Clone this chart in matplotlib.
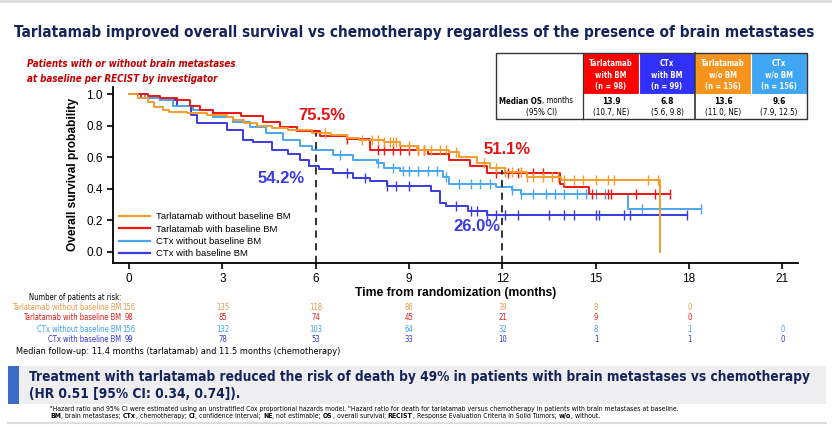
import numpy as np
import matplotlib
matplotlib.use("Agg")
import matplotlib.pyplot as plt
from matplotlib import font_manager as fm
from matplotlib.patches import Rectangle
from matplotlib.lines import Line2D

ARIAL = ['Liberation Sans', 'DejaVu Sans']
plt.rcParams['font.family'] = ARIAL

W, H = 832, 426

# ---- KM step data (months, survival) ----
orange_t = [0, 0.3, 0.6, 0.8, 1.1, 1.3, 1.85, 2.5, 3.15, 3.35, 3.7, 4.1, 4.6, 5.1, 5.9, 6.5, 7.0, 7.4,
            8.2, 8.7, 9.25, 10.3, 10.6, 11.2, 11.6, 12.1, 12.8, 13.9, 17.07]
orange_s = [1.0, 0.98, 0.95, 0.92, 0.90, 0.89, 0.88, 0.87, 0.857, 0.84, 0.82, 0.80, 0.79, 0.775, 0.755, 0.74,
            0.725, 0.71, 0.70, 0.67, 0.65, 0.635, 0.60, 0.565, 0.535, 0.51, 0.478, 0.46, 0.0]
orange_cens = [6.3, 7.5, 7.8, 8.0, 8.2, 8.4, 8.5, 8.6, 9.0, 9.3, 9.5, 9.7, 10.0, 10.2, 10.5, 11.4, 11.8,
               12.1, 12.3, 12.6, 12.8, 13.0, 13.3, 13.6, 13.8, 14.0, 14.3, 14.6, 15.0, 15.4, 15.6, 16.7, 17.0]

red_t = [0, 0.6, 1.0, 1.54, 1.96, 2.28, 2.7, 3.6, 4.3, 4.85, 5.4, 6.14, 7.0, 7.75, 9.6, 10.3, 10.96,
         11.5, 13.86, 14.0, 14.8, 17.4]
red_s = [1.0, 0.99, 0.98, 0.965, 0.93, 0.90, 0.88, 0.865, 0.825, 0.795, 0.77, 0.735, 0.72, 0.645, 0.62,
         0.585, 0.545, 0.50, 0.43, 0.41, 0.37, 0.37]
red_cens = [7.0, 8.0, 8.2, 8.5, 8.7, 9.0, 9.3, 9.5, 11.8, 12.2, 12.5, 13.0, 13.3, 14.9, 15.4, 15.5,
            16.3, 16.9, 17.4]

ltblue_t = [0, 0.5, 1.0, 1.4, 2.06, 2.7, 3.35, 3.9, 4.4, 4.95, 5.5, 5.9, 6.56, 7.2, 7.97, 8.2, 8.7,
            10.1, 10.3, 11.8, 12.3, 12.6, 16.05, 18.4]
ltblue_s = [1.0, 0.98, 0.965, 0.93, 0.90, 0.86, 0.825, 0.795, 0.755, 0.71, 0.67, 0.65, 0.615, 0.585,
            0.565, 0.535, 0.515, 0.478, 0.43, 0.41, 0.395, 0.37, 0.27, 0.27]
ltblue_cens = [6.8, 8.0, 8.5, 8.8, 9.0, 9.3, 9.6, 9.9, 10.2, 10.6, 11.0, 11.3, 11.6, 12.3, 12.6, 13.0,
               13.4, 13.7, 14.0, 14.4, 14.7, 15.0, 15.3, 16.5, 18.4]

blue_t = [0, 0.4, 1.0, 1.54, 2.0, 2.19, 3.15, 3.67, 4.0, 4.6, 5.1, 5.5, 5.8, 6.1, 6.56, 7.2, 7.75, 8.3,
          9.7, 10.0, 10.2, 10.9, 11.5, 17.95]
blue_s = [1.0, 0.98, 0.965, 0.93, 0.87, 0.82, 0.775, 0.71, 0.70, 0.65, 0.62, 0.585, 0.545, 0.53, 0.50,
          0.47, 0.45, 0.42, 0.39, 0.31, 0.29, 0.26, 0.237, 0.237]
blue_cens = [7.0, 7.6, 8.3, 8.6, 9.0, 10.5, 11.0, 11.2, 11.5, 11.8, 12.1, 12.5, 13.5, 14.0, 14.3, 15.0,
             15.1, 15.9, 16.1, 17.95]

# ---- risk table ----
risk_times = [0, 3, 6, 9, 12, 15, 18, 21]
risk_labels = ["Tarlatamab without baseline BM", "Tarlatamab with baseline BM",
               "CTx without baseline BM", "CTx with baseline BM"]
risk_orange = [156, 135, 118, 86, 39, 8, 0]
risk_red = [98, 85, 74, 45, 21, 9, 0]
risk_ltblue = [156, 132, 103, 64, 32, 8, 1, 0]
risk_blue = [99, 78, 53, 33, 10, 1, 1, 0]

# ---- median OS table ----
tab_heads = [["Tarlatamab", "with BM", "(n = 98)"], ["CTx", "with BM", "(n = 99)"],
             ["Tarlatamab", "w/o BM", "(n = 156)"], ["CTx", "w/o BM", "(n = 156)"]]
tab_median = ["13.9", "6.8", "13.6", "9.6"]
tab_ci = ["(10.7, NE)", "(5.6, 9.8)", "(11.0, NE)", "(7.9, 12.5)"]

C_OR = '#f59c2c'
C_RED = '#f01414'
C_LB = '#4aa6ee'
C_BL = '#3a3ade'
NAVY = '#14245a'


def narrow(bold=False, italic=False):
    # DejaVu Sans Condensed stands in for the slide's narrow font
    for f in fm.fontManager.ttflist:
        if f.name == 'DejaVu Sans' and f.stretch == 'condensed' and (f.weight == 700) == bold \
                and (f.style != 'normal') == italic:
            return fm.FontProperties(fname=f.fname, size=8)
    return fm.FontProperties(family='DejaVu Sans', weight='bold' if bold else 'normal',
                             style='oblique' if italic else 'normal', size=8)


NR = narrow()
NB = narrow(bold=True)
NBI = narrow(bold=True, italic=True)

fig = plt.figure(figsize=(W / 100, H / 100), dpi=100)
renderer = fig.canvas.get_renderer()


def fx(x):
    return x / W


def fy(y):
    return 1 - y / H


def ftext(x, y, s, fp=NR, size=8, **kw):
    t = fig.text(fx(x), fy(y), s, fontproperties=fp, **kw)
    t.set_fontsize(size)
    return t


def fit(t, width):
    w = t.get_window_extent(renderer).width
    t.set_fontsize(t.get_fontsize() * width / w)
    return t.get_fontsize()


# top grey border
fig.add_artist(Line2D([0, 1], [fy(1), fy(1)], color='#dddddd', lw=2))

t = ftext(14, 32, "Tarlatamab improved overall survival vs chemotherapy regardless of the presence of brain metastases",
          NB, color=NAVY, va='center')
fit(t, 804)
t = ftext(27, 64, "Patients with or without brain metastases", NBI, color='#c00000', va='center')
sz = fit(t, 210)
ftext(27, 79, "at baseline per RECIST by investigator", NBI, sz, color='#c00000', va='center')

# ---- axes ----
x0, x1 = -0.514, 21.51
y0, y1 = -0.07, 1.05
ax_left, ax_right, ax_bot = 113, 798, 263
ax_top = 252 - 1.05 * 157.5
ax = fig.add_axes([fx(ax_left), fy(ax_bot), (ax_right - ax_left) / W, (ax_bot - ax_top) / H])
ax.set_xlim(x0, x1)
ax.set_ylim(y0, y1)

curves = [(orange_t, orange_s, orange_cens, C_OR, risk_labels[0]),
          (red_t, red_s, red_cens, C_RED, risk_labels[1]),
          (ltblue_t, ltblue_s, ltblue_cens, C_LB, risk_labels[2]),
          (blue_t, blue_s, blue_cens, C_BL, risk_labels[3])]

for t_, s_, cens, col, lab in curves[::-1]:
    ax.step(t_, s_, where='post', color=col, lw=1.4, label=lab)
    t_arr = np.array(t_)
    s_arr = np.array(s_)
    idx = np.searchsorted(t_arr, cens, side='right') - 1
    ax.plot(cens, s_arr[idx], ls='none', marker='|', ms=6.5, mew=1.0, color=col)

ax.vlines(6, y0, 0.755, colors='#222222', linestyles=(0, (4, 3)), lw=1.3)
ax.vlines(12, y0, 0.52, colors='#222222', linestyles=(0, (4, 3)), lw=1.3)

for xt, yt, s, col in [(6.2, 0.865, "75.5%", '#e81010'), (12.15, 0.65, "51.1%", '#e81010'),
                       (4.9, 0.465, "54.2%", C_BL), (11.2, 0.16, "26.0%", C_BL)]:
    ax.text(xt, yt, s, color=col, fontsize=12, fontweight='bold', ha='center', va='center')

handles = [Line2D([], [], color=c[3], lw=1.6) for c in curves]
ax.legend(handles, [c[4] for c in curves], loc='lower left', bbox_to_anchor=(0.0, -0.005), frameon=False,
          handlelength=3.3, handletextpad=0.6, labelspacing=0.35, borderpad=0.1, fontsize=6.8)

for sp in ['top', 'right']:
    ax.spines[sp].set_visible(False)
for sp in ['left', 'bottom']:
    ax.spines[sp].set_linewidth(1.3)
ax.set_xticks(risk_times)
ax.set_yticks([0.0, 0.2, 0.4, 0.6, 0.8, 1.0])
ax.set_yticklabels(["0.0", "0.2", "0.4", "0.6", "0.8", "1.0"])
ax.tick_params(labelsize=8.5, length=4, width=1.2, direction='out')
ax.set_xlabel("Time from randomization (months)", fontsize=8.7, fontweight='bold', labelpad=1)
ax.set_ylabel("Overall survival probability", fontsize=8.6, fontweight='bold', labelpad=5)

# ---- risk table ----
def tpx(tt):
    return 129 + tt * 31.13


t = ftext(29, 297, "Number of patients at risk:", NR, va='center')
fit(t, 92)
risk_rows = [(risk_orange, '#ee9a48'), (risk_red, '#e01c1c'), (risk_ltblue, '#3fa0ee'), (risk_blue, '#3434d4')]
t = ftext(121.5, 307, risk_labels[0], NR, ha='right', va='center')
rsz = fit(t, 110)
t.remove()
for i, (vals, col) in enumerate(risk_rows):
    yy = 307 + i * 11
    ftext(121.5, yy, risk_labels[i], NR, rsz, color=col, ha='right', va='center')
    for tt, v in zip(risk_times, vals):
        ftext(tpx(tt), yy, str(v), NR, rsz, color=col, ha='center', va='center')

t = ftext(16, 352, "Median follow-up: 11.4 months (tarlatamab) and 11.5 months (chemotherapy)", NR, va='center')
fit(t, 324)

# ---- median OS table ----
tb_l, tb_r, tb_t, tb_m, tb_b = 496, 807, 53, 94, 119
cells_x = [583, 639, 695, 751, 807]
head_cols = ['#ff0000', '#3030f8', '#f7941d', '#3ea6f2']
t = ftext(0, 0, "Tarlatamab", NB)
hsz = fit(t, 44)
t.remove()
for i in range(4):
    fig.add_artist(Rectangle((fx(cells_x[i]), fy(tb_m)), (cells_x[i + 1] - cells_x[i]) / W,
                             (tb_m - tb_t) / H, facecolor=head_cols[i], edgecolor='white', lw=0.8))
    cx = (cells_x[i] + cells_x[i + 1]) / 2
    for j, line in enumerate(tab_heads[i]):
        ftext(cx, 63 + j * 12, line, NB, hsz, color='white', ha='center', va='center')
    ftext(cx, 101, tab_median[i], NB, hsz * 1.1, ha='center', va='center')
    ftext(cx, 112, tab_ci[i], NR, hsz * 1.05, ha='center', va='center')
fig.add_artist(Rectangle((fx(tb_l), fy(tb_b)), (tb_r - tb_l) / W, (tb_b - tb_t) / H, facecolor='none',
                         edgecolor='#333333', lw=1.0))
fig.add_artist(Line2D([fx(583), fx(583)], [fy(tb_t), fy(tb_b)], color='#333333', lw=0.9))
fig.add_artist(Line2D([fx(695), fx(695)], [fy(tb_t), fy(tb_b)], color='#333333', lw=1.2))
ftext(542, 101, "Median OS", NB, hsz * 1.02, ha='right', va='center')
ftext(542, 101, ", months", NR, hsz * 1.02, ha='left', va='center')
ftext(541, 112, "(95% CI)", NR, hsz * 1.05, ha='center', va='center')

# ---- bottom banner ----
fig.add_artist(Rectangle((fx(8), fy(404)), (826 - 8) / W, (404 - 366) / H, facecolor='#eeeef0',
                         edgecolor='none'))
fig.add_artist(Rectangle((fx(8), fy(404)), 11 / W, (404 - 366) / H, facecolor='#3a6cc6', edgecolor='none'))
t = ftext(29, 377, "Treatment with tarlatamab reduced the risk of death by 49% in patients with brain metastases vs chemotherapy",
          NB, color=NAVY, va='center')
bsz = fit(t, 786)
ftext(29, 394, "(HR 0.51 [95% CI: 0.34, 0.74]).", NB, bsz, color=NAVY, va='center')

t = ftext(50, 408, "\u1d43Hazard ratio and 95% CI were estimated using an unstratified Cox proportional hazards model. "
          "\u1d47Hazard ratio for death for tarlatamab versus chemotherapy in patients with brain metastases at baseline.",
          NR, va='center')
fsz = fit(t, 623)

# abbreviations line with bold terms
segs = [("BM", True), (", brain metastases; ", False), ("CTx", True), (", chemotherapy; ", False),
        ("CI", True), (", confidence interval; ", False), ("NE", True), (", not estimable; ", False),
        ("OS", True), (", overall survival; ", False), ("RECIST", True),
        (", Response Evaluation Criteria in Solid Tumors; ", False), ("w/o", True), (", without.", False)]
xx = 50
for s, b in segs:
    tx = ftext(xx, 416, s, NB if b else NR, fsz, va='center')
    xx += tx.get_window_extent(renderer).width
fig.add_artist(Line2D([fx(8), fx(826)], [fy(423), fy(423)], color='#dddddd', lw=1.5))

fig.savefig("out.png", dpi=100)
